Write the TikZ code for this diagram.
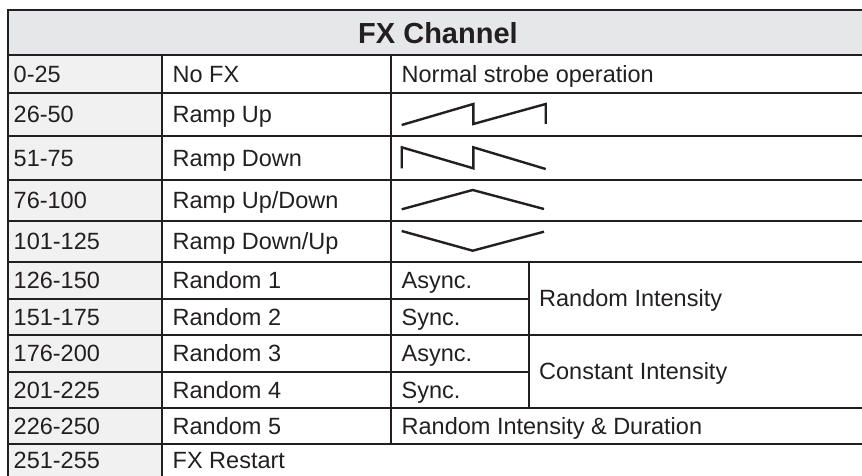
\documentclass[tikz,border=0pt]{standalone}
\usepackage{fontspec}
\setmainfont{Liberation Sans}

\definecolor{ink}{HTML}{231F20}
\definecolor{headgray}{HTML}{E6E7E8}
\definecolor{colgray}{HTML}{F1F1F2}

\tikzset{
    celltext/.style={anchor=base west, inner sep=0pt, text=ink, font=\fontsize{23.5}{28}\selectfont},
    rule/.style={draw=ink, line width=2pt},
    wave/.style={draw=ink, line width=2.4pt, line join=miter}
}

\begin{document}
\begin{tikzpicture}[x=1pt,y=-1pt]
    \useasboundingbox (0,0) rectangle (862,476);
    \clip (0,0) rectangle (862,476);

    % Shading
    \fill[headgray] (8,10) rectangle (880,55);
    \fill[colgray] (8,55) rectangle (162,490);

    % Rules
    \foreach \y in {10,55,93,136,180,221,262,335,408,444}
        \draw[rule] (7,\y) -- (880,\y);
    \draw[rule] (7,299) -- (529,299);
    \draw[rule] (7,372) -- (529,372);
    \draw[rule] (8,9) -- (8,490);
    \draw[rule] (162,55) -- (162,490);
    \draw[rule] (391,55) -- (391,444);
    \draw[rule] (529,262) -- (529,408);

    % Header
    \node[anchor=base, inner sep=0pt, text=ink, font=\fontsize{29}{34}\selectfont\bfseries]
        (title) at (438,44) {FX Channel};

    % Ranges and effects
    \foreach \yc/\rng/\fx [count=\i] in {74/0-25/No FX, 114.5/26-50/Ramp Up,
        158/51-75/Ramp Down, 200.5/76-100/{Ramp Up/Down}, 241.5/101-125/{Ramp Down/Up},
        280.5/126-150/Random 1, 317/151-175/Random 2, 353.5/176-200/Random 3,
        390/201-225/Random 4, 426/226-250/Random 5, 460/251-255/FX Restart}
    {
        \node[celltext] (range\i) at (13.5,\yc+8.4) {\rng};
        \node[celltext] (effect\i) at (172.5,\yc+8.4) {\fx};
    }

    % Descriptions
    \node[celltext] (normal) at (401.5,82.4) {Normal strobe operation};
    \node[celltext] (async1) at (401.5,288.9) {Async.};
    \node[celltext] (sync1) at (401.5,325.4) {Sync.};
    \node[celltext] (async2) at (401.5,361.9) {Async.};
    \node[celltext] (sync2) at (401.5,398.4) {Sync.};
    \node[celltext] (randint) at (539,306.9) {Random Intensity};
    \node[celltext] (constint) at (539,379.9) {Constant Intensity};
    \node[celltext] (randdur) at (401.5,434.4) {Random Intensity \& Duration};

    % Waveforms
    \draw[wave] (401.7,125) -- (473.3,104) -- (473.3,124) -- (545.7,104) -- (545.7,124);
    \draw[wave] (401.7,168.3) -- (401.7,147.3) -- (473.3,168.3) -- (473.3,147.3) -- (545.7,169);
    \draw[wave] (401.7,209.3) -- (472.7,190) -- (544,209);
    \draw[wave] (401.7,231) -- (472.7,250.7) -- (544,231.7);
\end{tikzpicture}
\end{document}
